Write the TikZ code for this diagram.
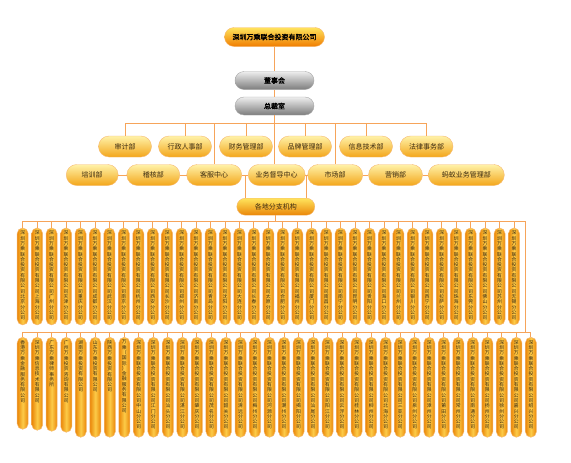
\documentclass[tikz,border=0pt]{standalone}
\usepackage{fontspec}
\usepackage{xcolor}
\usepackage{tikz}
\usetikzlibrary{positioning, calc}
\newfontfamily\cjk[AutoFakeBold=1.6]{Noto Sans CJK SC}
\definecolor{C_LINE} {HTML}{F6A45A}
\definecolor{C_TOPT} {HTML}{FFE45C}
\definecolor{C_TOPB} {HTML}{F07C00}
\definecolor{C_GRYT} {HTML}{EEEEEE}
\definecolor{C_GRYB} {HTML}{7C7C7C}
\definecolor{C_DEPT} {HTML}{FFF2A8}
\definecolor{C_DEPM} {HTML}{FFD43A}
\definecolor{C_DEPB} {HTML}{F3A61A}
\definecolor{C_PILO} {HTML}{EA8608}
\definecolor{C_PILY} {HTML}{FCCB48}
\definecolor{C_EDGE} {HTML}{F6B870}
\definecolor{C_TXT}  {HTML}{3A2A10}
% stack the characters of a name one under the other
\makeatletter
\newcommand\vstack[1]{\edef\vs@tmp{#1}\expandafter\vs@go\vs@tmp\relax}
\def\vs@go#1#2\relax{#1\ifx\relax#2\relax\expandafter\@gobble
  \else\expandafter\@firstofone\fi{\\\vs@go#2\relax}}
\makeatother
\tikzset{
  %% -- group company --
  org/top/.style={
    draw=C_EDGE, rounded corners=9.5pt, top color=C_TOPT, bottom color=C_TOPB,
    minimum width=100pt, minimum height=19pt, inner sep=0pt,
    font=\cjk\bfseries\fontsize{7}{8}\selectfont
  },
  %% -- board / president office --
  org/board/.style={
    draw=gray!70, rounded corners=9pt, top color=C_GRYT, bottom color=C_GRYB,
    minimum width=79pt, minimum height=18pt, inner sep=0pt,
    font=\cjk\bfseries\fontsize{7}{8}\selectfont
  },
  %% -- departments --
  org/dept/.style={
    draw=C_EDGE, rounded corners=10.5pt, top color=C_DEPT, middle color=C_DEPM,
    bottom color=C_DEPB, minimum width=53pt, minimum height=21pt, inner sep=0pt,
    text=C_TXT, font=\cjk\fontsize{7}{8}\selectfont
  },
  %% -- branch head box --
  org/branch/.style={
    draw=C_EDGE, rounded corners=8.5pt, top color=C_TOPT, bottom color=C_PILO,
    minimum width=78pt, minimum height=17pt, inner sep=0pt,
    text=C_TXT, font=\cjk\fontsize{7}{8}\selectfont
  },
  %% -- branch pills --
  org/pill/.style={
    draw=C_EDGE, line width=0.5pt, rounded corners=5.5pt,
    left color=C_PILO, right color=C_PILO, middle color=C_PILY,
    minimum width=11pt, inner sep=0pt, anchor=north
  },
  org/pilltxt/.style={
    inner sep=0pt, align=center, text=C_TXT,
    font=\cjk\fontsize{4.8}{5.3}\selectfont
  },
  org/link/.style={draw=C_LINE, line width=0.9pt},
}

\begin{document}
\begin{tikzpicture}[x=1pt, y=-1pt]
\useasboundingbox (0,0) rectangle (571,463);

%% ── Level positions ──────────────────────────────────────────
\pgfmathsetmacro{\yA}{146.5}   % first department row
\pgfmathsetmacro{\yB}{175}     % second department row
\pgfmathsetmacro{\yP}{227.7}   % top of first pill row
\pgfmathsetmacro{\yQ}{337}     % top of second pill row
\coordinate (barA) at (0,123.7);
\coordinate (bar1) at (0,221);
\coordinate (bar2) at (0,332);
\coordinate (rt)   at (525.7,221);

%% ── Head office ──────────────────────────────────────────────
\node[org/top]   (co)  at (274.5,37)  {深圳万乘联合投资有限公司};
\node[org/board] (dsh) at (274.5,80.5) {董事会};
\node[org/board] (zcs) at (274.5,106) {总裁室};

%% ── Departments ──────────────────────────────────────────────
\foreach \nm/\x [count=\i] in {审计部/125, 行政人事部/185, 财务管理部/246,
    品牌管理部/305, 信息技术部/366, 法律事务部/426.5}
  \node[org/dept] (a\i) at (\x,\yA) {\nm};

\node[org/dept, minimum width=52pt] (b1) at (92.2,\yB)  {培训部};
\node[org/dept]                     (b2) at (153.3,\yB) {稽核部};
\node[org/dept, minimum width=55pt] (b3) at (214.2,\yB) {客服中心};
\node[org/dept, minimum width=57pt] (b4) at (276.7,\yB) {业务督导中心};
\node[org/dept, minimum width=55pt] (b5) at (335.2,\yB) {市场部};
\node[org/dept, minimum width=54pt] (b6) at (395.5,\yB) {营销部};
\node[org/dept, minimum width=76pt] (b7) at (466.3,\yB) {蚂蚁业务管理部};

\node[org/branch] (br) at (275.8,206.7) {各地分支机构};

%% ── Branch pills, row 1 ──────────────────────────────────────
\foreach \city [count=\i from 0] in {北京,上海,广州,天津,重庆,成都,武汉,南京,
    杭州,西安,长沙,郑州,济南,青岛,沈阳,大连,长春,太原,合肥,福州,厦门,南昌,
    南宁,昆明,贵阳,海口,兰州,银川,西宁,拉萨,珠海,东莞,佛山,苏州,无锡} {
  \node[org/pill, minimum height=97pt] (p\i) at ({22.7+14.45*\i},\yP) {};
  \node[org/pilltxt, below=3pt of p\i.north] (pt\i)
    {\vstack{深圳万乘联合投资有限公司\city 分公司}};
}

%% ── Branch pills, row 2 ──────────────────────────────────────
\foreach \nm/\h [count=\i from 0] in {香港万乘金融服务有限公司/92,
    深圳万乘信息技术有限公司/93, 广东万乘律师事务所/94,
    广州万乘投资咨询有限公司/95, 湖南万乘投资有限公司/100,
    山东万乘投资有限公司/100, 陕西万乘投资有限公司/100,
    万乘（国际）金融服务有限公司/100} {
  \node[org/pill, minimum height=\h pt] (q\i) at ({22.7+14.52*\i},\yQ) {};
  \node[org/pilltxt, below=3pt of q\i.north] (qt\i) {\vstack{\nm}};
}
\foreach \city [count=\i from 8] in {中山,江门,汕头,湛江,肇庆,茂名,韶关,清远,
    梅州,河源,潮州,揭阳,汕尾,阳江,云浮,桂林,柳州,北海,三亚,泉州,漳州,莆田,
    常州,南通,扬州,徐州,嘉兴,绍兴} {
  \node[org/pill, minimum height=100pt] (q\i) at ({22.7+14.52*\i},\yQ) {};
  \node[org/pilltxt, below=3pt of q\i.north] (qt\i)
    {\vstack{深圳万乘联合投资有限公司\city 分公司}};
}

%% ── Connectors ───────────────────────────────────────────────
\draw[org/link] (co) -- (dsh);
\draw[org/link] (dsh) -- (zcs);
\draw[org/link] (zcs.south) -- (zcs.south |- b4.north);
\draw[org/link] (a1.north |- barA) -- (a6.north |- barA);
\foreach \i in {1,...,6}
  \draw[org/link] (a\i.north |- barA) -- (a\i.north);
\draw[org/link] (b3.north |- barA) -- (b3.north);
\draw[org/link] (b5.north |- barA) -- (b5.north);
\foreach \i/\j in {1/2,2/3,3/4,4/5,5/6,6/7}
  \draw[org/link] (b\i.east) -- (b\j.west);
\coordinate (jL) at ($(b3.east)!0.5!(b4.west)$);
\coordinate (jR) at ($(b4.east)!0.5!(b5.west)$);
\draw[org/link] (jL) -- (jL |- br.north);
\draw[org/link] (jR) -- (jR |- br.north);
\draw[org/link] (br.south) -- (br.south |- bar1);
\draw[org/link] (p0.north |- bar1) -- (rt) -- (rt |- bar2);
\foreach \i in {0,...,34}
  \draw[org/link] (p\i.north |- bar1) -- (p\i.north);
\draw[org/link] (q0.north |- bar2) -- (q35.north |- bar2);
\foreach \i in {0,...,35}
  \draw[org/link] (q\i.north |- bar2) -- (q\i.north);

\end{tikzpicture}
\end{document}
